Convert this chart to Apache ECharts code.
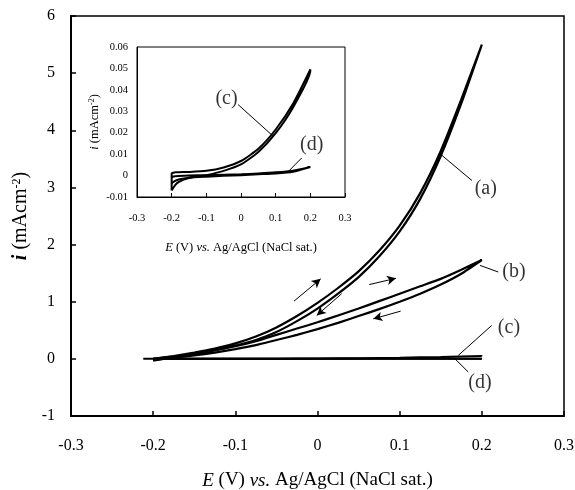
<!DOCTYPE html>
<html><head><meta charset="utf-8">
<script src="https://cdn.jsdelivr.net/npm/echarts@6/dist/echarts.min.js"></script>
<style>html,body{margin:0;padding:0;background:#fff}#c{width:575px;height:490px}</style>
</head><body><div id="c"></div>
<script>
// ---- data ----
const potentialAB = [-0.2,-0.175,-0.15,-0.125,-0.1,-0.075,-0.05,-0.025,0,0.025,0.05,0.075,0.1,0.125,0.15,0.175,0.2];
const aForward = [0.00,0.05,0.11,0.18,0.27,0.39,0.55,0.75,0.98,1.24,1.53,1.89,2.33,2.90,3.64,4.54,5.50];
const aReverse = [-0.03,0.03,0.09,0.15,0.23,0.33,0.47,0.66,0.88,1.14,1.43,1.79,2.23,2.80,3.55,4.47,5.50];
const bForward = [0.00,0.04,0.09,0.15,0.22,0.31,0.42,0.53,0.64,0.76,0.88,1.01,1.14,1.27,1.40,1.56,1.73];
const bReverse = [-0.02,0.02,0.06,0.11,0.17,0.24,0.33,0.42,0.52,0.63,0.75,0.87,1.00,1.14,1.30,1.49,1.73];
const potentialCD = [-0.2,-0.19,-0.18,-0.15,-0.1,-0.05,0,0.05,0.1,0.15,0.2];
const cUpper = [0.001,0.0015,0.0016,0.0017,0.0022,0.0038,0.0068,0.0125,0.0215,0.0335,0.0495];
const cLower = [-0.007,-0.0045,-0.003,-0.0012,0.0002,0.0022,0.0052,0.011,0.0198,0.0318,0.049];
const dUpper = [-0.0005,-0.0003,-0.0002,0.0,0.0002,0.0004,0.0006,0.0010,0.0015,0.0023,0.0040];
const dLower = [-0.0035,-0.0025,-0.0018,-0.001,-0.0005,-0.0001,0.0002,0.0006,0.0010,0.0018,0.0037];
const baselineE = [-0.212, 0.2];
const baselineI = [0, 0];
const mainXTicks = [-0.3,-0.2,-0.1,0,0.1,0.2,0.3];
const mainYTicks = [-1,0,1,2,3,4,5,6];
const insetYTicks = [-0.01,0,0.01,0.02,0.03,0.04,0.05,0.06];

// ---- annotations (data coordinates) ----
const mainLabelText = ['(a)','(b)','(c)','(d)'];
const mainLabelE = [0.2048,0.239,0.233,0.1977];
const mainLabelI = [2.98,1.52,0.545,-0.41];
const mainLeaders = [[[0.149,3.59],[0.188,3.12]],[[0.1977,1.636],[0.22,1.52]],[[0.1713,0.06],[0.212,0.585]],[[0.1673,0.0],[0.1835,-0.23]]];
const mainArrows = [[[-0.0286,1.01],[0.0039,1.40]],[[0.0294,1.14],[-0.0009,0.76]],[[0.063,1.30],[0.0955,1.41]],[[0.1012,0.835],[0.0679,0.70]]];
const insetLabelText = ['(c)','(d)'];
const insetLabelE = [-0.0418,0.204];
const insetLabelI = [0.0359,0.0144];
const insetLeaders = [[[-0.0082,0.0331],[0.0913,0.0186]],[[0.175,0.0082],[0.1364,0.0019]]];

// ---- helpers ----
const zip = (xs, ys) => xs.map((x, k) => [x, ys[k]]);
const loop = (xs, fwd, rev) => zip(xs, fwd).concat(zip(xs, rev).reverse());
const FONT = 'Liberation Serif';
const BLACK = '#000';

function curve(name, data, xi, lw) {
  return {type:'line', name, xAxisIndex:xi, yAxisIndex:xi, data, showSymbol:false, symbol:'none',
    smooth:0.2, lineStyle:{color:BLACK, width:lw}, silent:true, animation:false, z:5};
}
function labels(data, xi) {
  return {type:'scatter', xAxisIndex:xi, yAxisIndex:xi, data, symbolSize:1,
    itemStyle:{color:'rgba(0,0,0,0)'}, silent:true, animation:false, z:6,
    label:{show:true, position:'inside', formatter:p=>p.data[2], color:BLACK, fontFamily:FONT, fontSize:20}};
}
function lines(segs, xi, arrow) {
  return {type:'line', xAxisIndex:xi, yAxisIndex:xi, data:[], silent:true, animation:false, z:6,
    markLine:{silent:true, animation:false, symbol:arrow?['none','arrow']:['none','none'], symbolSize:[7,9],
      label:{show:false}, lineStyle:{color:BLACK, width:1, type:'solid'},
      emphasis:{disabled:true},
      data: segs.map(s => [{coord:s[0]},{coord:s[1]}])}};
}
const fmt = ticks => v => {const t = ticks.find(u => Math.abs(u - v) < 1e-9); return t === undefined ? '' : String(t);};

const chart = echarts.init(document.getElementById('c'), null, {renderer:'canvas'});
chart.setOption({
  backgroundColor:'#fff',
  animation:false,
  grid:[
    {left:71, right:11, top:16, bottom:74, show:true, borderColor:BLACK, borderWidth:1.5, backgroundColor:'#fff', outerBoundsMode:'none', containLabel:false},
    {left:137, top:47, width:208, height:150, show:true, borderColor:BLACK, borderWidth:1, backgroundColor:'#fff', outerBoundsMode:'none', containLabel:false}
  ],
  xAxis:[
    {type:'value', gridIndex:0, min:-0.3, max:0.3, interval:0.1,
      axisLine:{onZero:false, lineStyle:{color:BLACK, width:2}},
      axisTick:{inside:true, length:5, lineStyle:{color:BLACK, width:1.5}},
      splitLine:{show:false},
      axisLabel:{color:BLACK, fontFamily:FONT, fontSize:16, margin:22, formatter:fmt(mainXTicks)},
      name:'{it|E} (V) {it|vs.} Ag/AgCl (NaCl sat.)', nameLocation:'middle', nameGap:55,
      nameTextStyle:{color:BLACK, fontFamily:FONT, fontSize:19, rich:{it:{fontStyle:'italic', fontFamily:FONT, fontSize:19, color:BLACK}}}},
    {type:'value', gridIndex:1, min:-0.3, max:0.3, interval:0.1,
      axisLine:{onZero:false, lineStyle:{color:BLACK, width:1}},
      axisTick:{inside:true, length:4, lineStyle:{color:BLACK, width:1}},
      splitLine:{show:false},
      axisLabel:{color:BLACK, fontFamily:FONT, fontSize:10.5, margin:16, formatter:fmt(mainXTicks)},
      name:'{it|E} (V) {it|vs.} Ag/AgCl (NaCl sat.)', nameLocation:'middle', nameGap:44,
      nameTextStyle:{color:BLACK, fontFamily:FONT, fontSize:12.5, rich:{it:{fontStyle:'italic', fontFamily:FONT, fontSize:12.5, color:BLACK}}}}
  ],
  yAxis:[
    {type:'value', gridIndex:0, min:-1, max:6, interval:1,
      axisLine:{onZero:false, lineStyle:{color:BLACK, width:2}},
      axisTick:{inside:true, length:5, lineStyle:{color:BLACK, width:1.5}},
      splitLine:{show:false},
      axisLabel:{color:BLACK, fontFamily:FONT, fontSize:16, margin:16, formatter:fmt(mainYTicks)},
      name:'{ib|i} (mAcm{sup|-2})', nameLocation:'middle', nameGap:33,
      nameTextStyle:{color:BLACK, fontFamily:FONT, fontSize:20, rich:{
        ib:{fontStyle:'italic', fontWeight:'bold', fontFamily:FONT, fontSize:20, color:BLACK},
        sup:{fontFamily:FONT, fontSize:12, color:BLACK, verticalAlign:'top', lineHeight:20}}}},
    {type:'value', gridIndex:1, min:-0.01, max:0.06, interval:0.01,
      axisLine:{onZero:false, lineStyle:{color:BLACK, width:1}},
      axisTick:{show:false},
      splitLine:{show:false},
      axisLabel:{color:BLACK, fontFamily:FONT, fontSize:10.5, margin:9, formatter:fmt(insetYTicks)},
      name:'{it|i} (mAcm{sup|-2})', nameLocation:'middle', nameGap:36,
      nameTextStyle:{color:BLACK, fontFamily:FONT, fontSize:12.5, rich:{
        it:{fontStyle:'italic', fontFamily:FONT, fontSize:12.5, color:BLACK},
        sup:{fontFamily:FONT, fontSize:8, color:BLACK, verticalAlign:'top', lineHeight:12}}}}
  ],
  series:[
    curve('a', loop(potentialAB, aForward, aReverse), 0, 2.2),
    curve('b', loop(potentialAB, bForward, bReverse), 0, 2.2),
    curve('baseline', zip(baselineE, baselineI), 0, 2),
    curve('c-main', loop(potentialCD, cLower, cUpper), 0, 2),
    curve('d-main', loop(potentialCD, dUpper, dLower), 0, 2),
    curve('c', loop(potentialCD, cLower, cUpper).concat([[potentialCD[0], cLower[0]]]), 1, 2),
    curve('d', loop(potentialCD, dUpper, dLower), 1, 2),
    labels(mainLabelE.map((e,k)=>[e, mainLabelI[k], mainLabelText[k]]), 0),
    labels(insetLabelE.map((e,k)=>[e, insetLabelI[k], insetLabelText[k]]), 1),
    lines(mainLeaders, 0, false),
    lines(mainArrows, 0, true),
    lines(insetLeaders, 1, false)
  ]
});
</script></body></html>
